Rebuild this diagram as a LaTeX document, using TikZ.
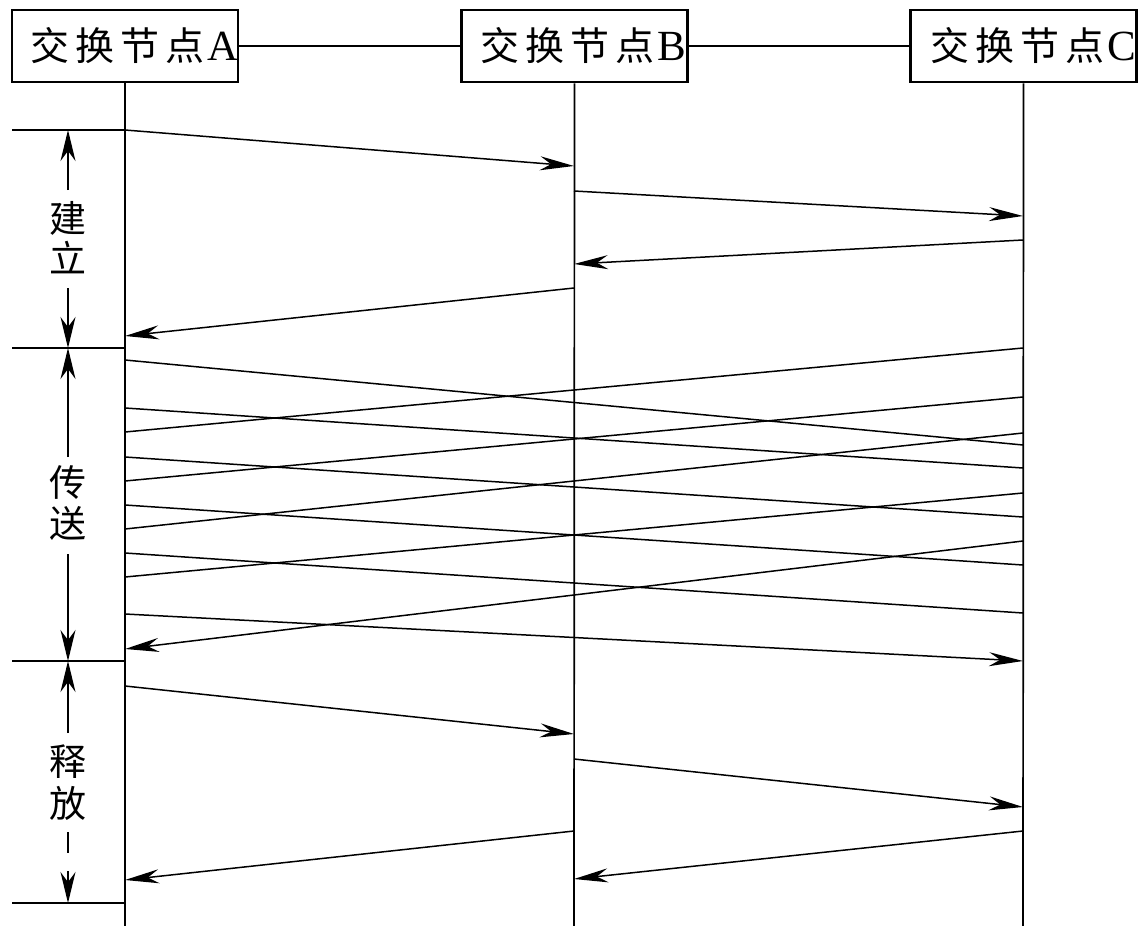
\documentclass[tikz,border=0pt]{standalone}
\usepackage{fontspec}
\setmainfont{Liberation Serif}
\newfontfamily\cjk{Noto Sans CJK SC}
\usetikzlibrary{arrows.meta}
\newcommand\jhjd[1]{{\cjk 交\hspace{6pt}换\hspace{6pt}节\hspace{6pt}点}\hspace{3pt}{\rmfamily\fontsize{43}{46}\selectfont #1}}
\begin{document}
\begin{tikzpicture}[x=1pt,y=-1pt,
  box/.style={draw, line width=2.8pt, minimum width=226pt, minimum height=72pt, inner sep=0pt},
  life/.style={line width=1.7pt},
  msg/.style={line width=1.5pt},
  msgarrow/.style={line width=1.5pt, -{Stealth[length=34pt,width=14pt]}},
  tickline/.style={line width=1.7pt},
  dim/.style={line width=1.5pt, -{Stealth[length=31pt,width=15pt]}},
  boxtext/.style={anchor=base west, inner sep=0pt, font=\fontsize{39}{42}\selectfont},
  phase/.style={inner sep=0pt, font=\cjk\fontsize{37}{40}\selectfont}]
\useasboundingbox (0,0) rectangle (1138,926);
% boxes
\node[box] (A) at (125,46) {};
\node[box] (B) at (574.5,46) {};
\node[box] (C) at (1023.5,46) {};
\node[boxtext] (At) at (30,60) {\jhjd{A}};
\node[boxtext] (Bt) at (480,60) {\jhjd{B}};
\node[boxtext] (Ct) at (930,60) {\jhjd{C}};
\draw[life] (A.east) -- (B.west);
\draw[life] (B.east) -- (C.west);
% lifelines
\coordinate (Abot) at (125,926);
\coordinate (Bbot) at (574,926);
\coordinate (Cbot) at (1023,926);
\draw[life] (A.south) -- (Abot);
\draw[life] (B.south) -- (Bbot);
\draw[life] (C.south) -- (Cbot);
% lifeline points
\foreach \y in {130,336,360,408,432,457,481,505,529,553,577,614,649,686,880}
  \coordinate (a\y) at (125,\y);
\foreach \y in {166,191,264,288,734,759,831,879}
  \coordinate (b\y) at (574,\y);
\foreach \y in {216,240,348,397,433,445,468,493,517,541,565,613,661,807,831}
  \coordinate (c\y) at (1023,\y);
% setup
\draw[msgarrow] (a130) -- (b166);
\draw[msgarrow] (b191) -- (c216);
\draw[msgarrow] (c240) -- (b264);
\draw[msgarrow] (b288) -- (a336);
% transfer
\draw[msg] (a360) -- (c445);
\draw[msg] (a408) -- (c468);
\draw[msg] (a457) -- (c517);
\draw[msg] (a505) -- (c565);
\draw[msg] (a553) -- (c613);
\draw[msgarrow] (a614) -- (c661);
\draw[msg] (c348) -- (a432);
\draw[msg] (c397) -- (a481);
\draw[msg] (c433) -- (a529);
\draw[msg] (c493) -- (a577);
\draw[msgarrow] (c541) -- (a649);
% release
\draw[msgarrow] (a686) -- (b734);
\draw[msgarrow] (b759) -- (c807);
\draw[msgarrow] (b831) -- (a880);
\draw[msgarrow] (c831) -- (b879);
% phase ticks
\foreach \y in {130,348,661,903} {
  \coordinate (tl\y) at (12,\y);
  \coordinate (tr\y) at (125,\y);
  \draw[tickline] (tl\y) -- (tr\y);
}
% dimension arrows
\coordinate (d130) at (68,130);
\coordinate (d190) at (68,190);
\coordinate (d288) at (68,288);
\coordinate (d348) at (68,348);
\coordinate (d457) at (68,457);
\coordinate (d554) at (68,554);
\coordinate (d661) at (68,661);
\coordinate (d733) at (68,733);
\coordinate (d832) at (68,832);
\coordinate (d853) at (68,853);
\coordinate (d871) at (68,871);
\coordinate (d903) at (68,903);
\draw[dim] (d190) -- (d130);
\draw[dim] (d288) -- (d348);
\draw[dim] (d457) -- (d348);
\draw[dim] (d554) -- (d661);
\draw[dim] (d733) -- (d661);
\draw[line width=1.5pt] (d832) -- (d853);
\draw[dim] (d871) -- (d903);
% phase labels
\node[phase] (p1) at (68,218) {建};
\node[phase] (p2) at (68,258) {立};
\node[phase] (p3) at (68,483) {传};
\node[phase] (p4) at (68,523) {送};
\node[phase] (p5) at (68,762) {释};
\node[phase] (p6) at (68,803) {放};
\end{tikzpicture}
\end{document}
